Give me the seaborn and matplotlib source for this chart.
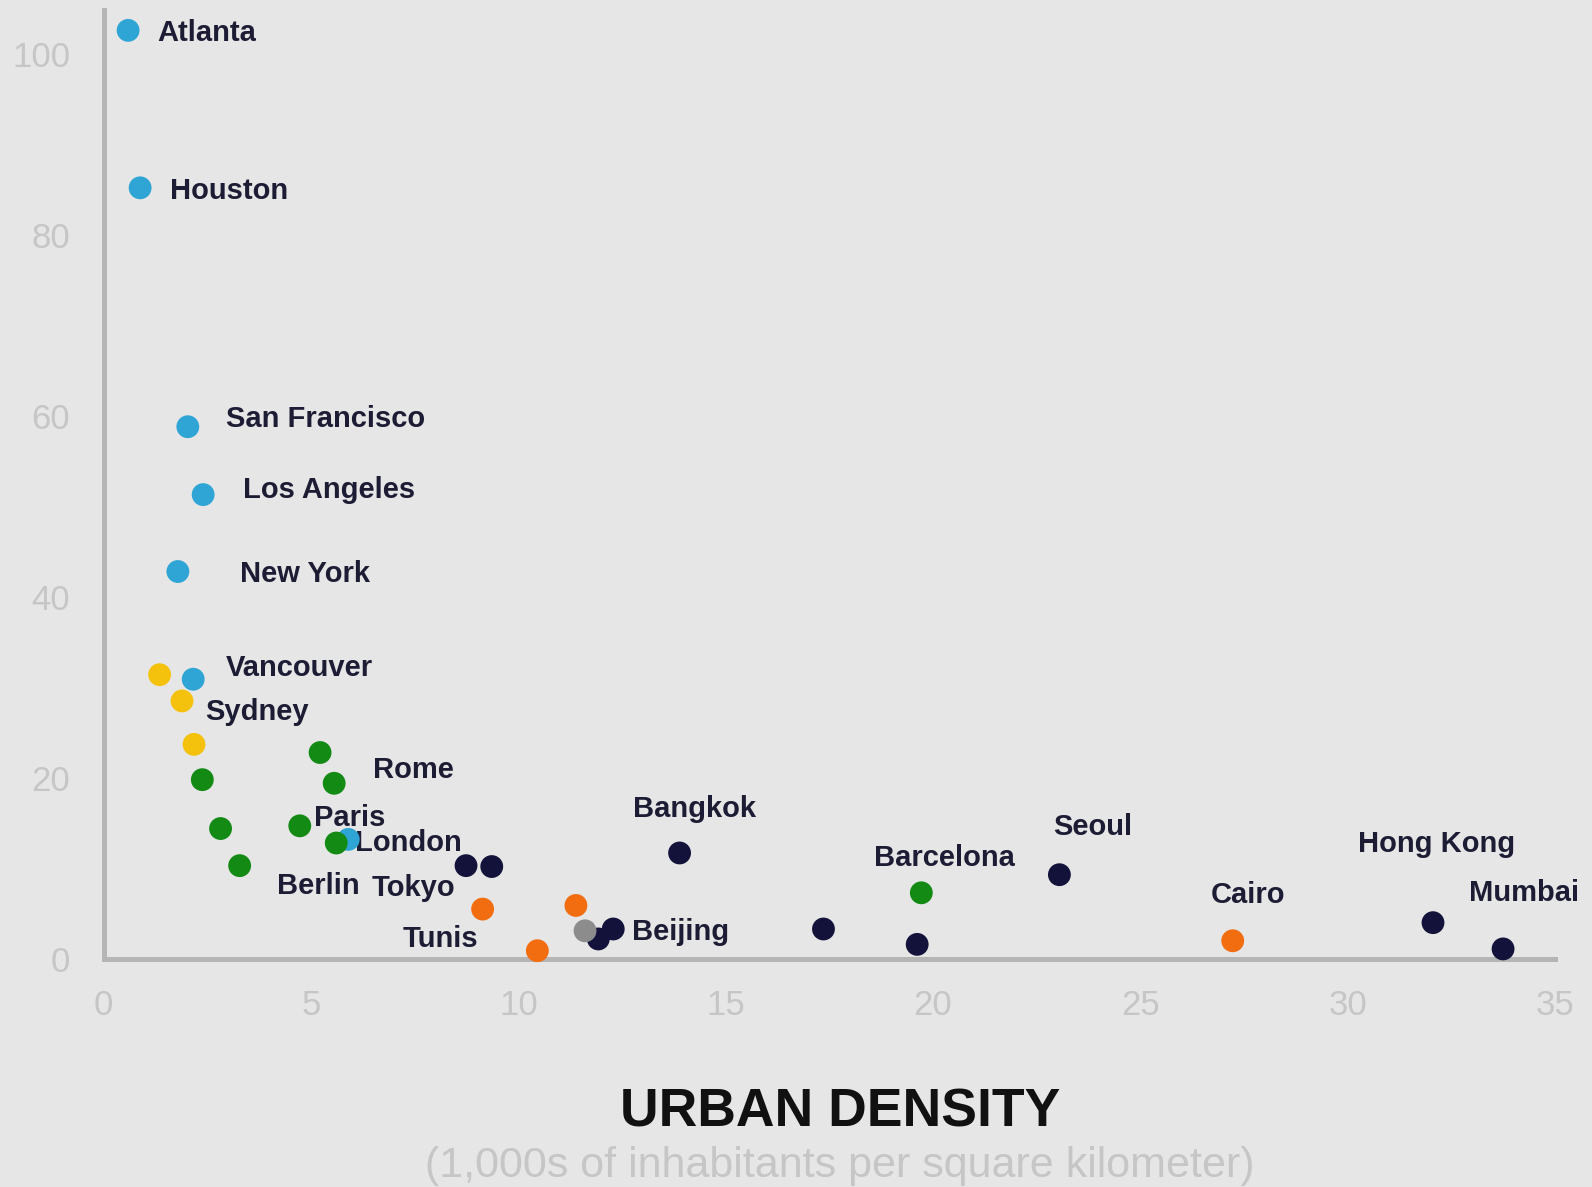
import matplotlib
matplotlib.use('Agg')
from matplotlib import pyplot as plt
import seaborn as sns
import pandas as pd

# city points: density (1,000s per km2), value, group
city = ['Atlanta', 'Houston', 'San Francisco', 'Los Angeles', 'New York', 'Vancouver', 'London',
        '', 'Sydney', '',
        '', '', 'Berlin', '', 'Rome', 'Paris', '', 'Barcelona',
        '', 'Tokyo', 'Bangkok', 'Beijing', '', '', '', 'Seoul', 'Hong Kong', 'Mumbai',
        '', '', 'Tunis', 'Cairo',
        '']
density = [0.59, 0.88, 2.03, 2.40, 1.79, 2.16, 5.90,
           1.35, 1.89, 2.18,
           2.38, 2.82, 3.28, 5.22, 5.56, 4.73, 5.61, 19.72,
           8.74, 9.36, 13.89, 12.29, 11.93, 17.36, 19.62, 23.05, 32.06, 33.75,
           9.14, 11.39, 10.46, 27.23,
           11.61]
value = [102.6, 85.2, 58.8, 51.3, 42.8, 30.9, 13.2,
         31.4, 28.5, 23.7,
         19.8, 14.4, 10.3, 22.8, 19.4, 14.7, 12.8, 7.3,
         10.3, 10.2, 11.7, 3.3, 2.2, 3.3, 1.6, 9.3, 4.0, 1.1,
         5.5, 5.9, 0.9, 2.0,
         3.1]
group = ['us'] * 7 + ['aus'] * 3 + ['eur'] * 8 + ['asia'] * 10 + ['afr'] * 4 + ['other']

# where each label text sits (data coords, left aligned)
label_pos = {
    'Atlanta': (1.30, 102.6), 'Houston': (1.59, 85.2), 'San Francisco': (2.94, 59.9),
    'Los Angeles': (3.36, 52.1), 'New York': (3.28, 42.8), 'Vancouver': (2.94, 32.4),
    'Sydney': (2.45, 27.6), 'Rome': (6.49, 21.2), 'Paris': (5.07, 15.9),
    'London': (6.07, 13.1), 'Berlin': (4.19, 8.4), 'Tokyo': (6.47, 8.1),
    'Tunis': (7.22, 2.5), 'Bangkok': (12.76, 16.9), 'Beijing': (12.74, 3.3),
    'Barcelona': (18.59, 11.4), 'Seoul': (22.90, 14.9), 'Hong Kong': (30.25, 13.0),
    'Cairo': (26.70, 7.4), 'Mumbai': (32.94, 7.6),
}

df = pd.DataFrame({'city': city, 'density': density, 'value': value, 'group': group})

palette = {'us': '#2ea5d5', 'aus': '#f4c20d', 'eur': '#128a14',
           'asia': '#12123a', 'afr': '#f26c10', 'other': '#8c8c8c'}

bg = '#e6e6e6'
sns.set_style('white')
plt.rcParams['font.family'] = ['Liberation Sans', 'DejaVu Sans']

fig = plt.figure(figsize=(15.92, 11.87), dpi=100, facecolor=bg)
ax = fig.add_axes([0.0651, 0.1922, 0.9116, 0.799])
ax.set_facecolor(bg)

sns.scatterplot(data=df, x='density', y='value', hue='group', palette=palette,
                s=270, edgecolor='none', legend=False, ax=ax, zorder=5, clip_on=False)

for name, (tx, ty) in label_pos.items():
    ax.text(tx, ty - 0.3, name, fontsize=21, fontweight='bold', color='#1c1c34',
            ha='left', va='center')

ax.set_xlim(0, 35)
ax.set_ylim(0, 104.8)
ax.set_xticks(range(0, 36, 5))
ax.set_yticks(range(0, 101, 20))
ax.tick_params(axis='both', length=0, labelsize=25, labelcolor='#c6c6c6')
ax.tick_params(axis='x', pad=22)
ax.tick_params(axis='y', pad=24)
ax.set_xlabel('')
ax.set_ylabel('')

for side in ['top', 'right']:
    ax.spines[side].set_visible(False)
for side in ['left', 'bottom']:
    ax.spines[side].set_color('#b5b5b5')
    ax.spines[side].set_linewidth(3.6)

fig.text(0.5277, 0.063, 'URBAN DENSITY', fontsize=38.5, fontweight='bold',
         color='#111111', ha='center', va='center')
fig.text(0.5277, 0.018, '(1,000s of inhabitants per square kilometer)', fontsize=31,
         color='#c6c6c6', ha='center', va='center')

fig.savefig('out.png', dpi=100, facecolor=bg)
